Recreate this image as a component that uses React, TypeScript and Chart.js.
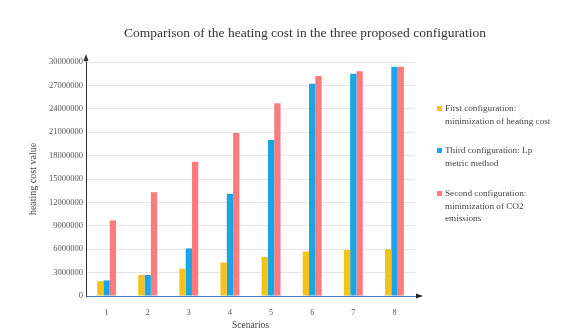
import React, { useEffect, useRef } from "react";
import { Chart, registerables } from "chart.js";

Chart.register(...registerables);

const categories = ["1", "2", "3", "4", "5", "6", "7", "8"];
const firstConfig = [1900000, 2700000, 3500000, 4300000, 5000000, 5700000, 5900000, 6000000];
const thirdConfig = [2000000, 2700000, 6100000, 13100000, 20000000, 27200000, 28500000, 29400000];
const secondConfig = [9700000, 13300000, 17200000, 20900000, 24700000, 28200000, 28800000, 29400000];
const yTicks = [0, 3000000, 6000000, 9000000, 12000000, 15000000, 18000000, 21000000, 24000000, 27000000, 30000000];

const titleText = "Comparison of the heating cost in the three proposed configuration";
const legendItems = [
  { color: "#f5c21b", lines: ["First configuration:", "minimization of heating cost"], top: 102 },
  { color: "#1aa6e4", lines: ["Third configuration: Lp", "metric method"], top: 144 },
  { color: "#fb7c7f", lines: ["Second configuration:", "minimization of CO2", "emissions"], top: 187 },
];

const FONT = "'Liberation Serif', 'Times New Roman', serif";

const arrowPlugin = {
  id: "axisArrows",
  afterDraw(chart: any) {
    const { ctx, chartArea } = chart;
    ctx.save();
    ctx.fillStyle = "#303030";
    ctx.beginPath();
    ctx.moveTo(chartArea.left, chartArea.top - 8);
    ctx.lineTo(chartArea.left - 2.5, chartArea.top - 1);
    ctx.lineTo(chartArea.left + 2.5, chartArea.top - 1);
    ctx.closePath();
    ctx.fill();
    ctx.strokeStyle = "#303030";
    ctx.beginPath();
    ctx.moveTo(chartArea.left, chartArea.top);
    ctx.lineTo(chartArea.left, chartArea.top - 4);
    ctx.stroke();
    ctx.fillStyle = "#222";
    ctx.beginPath();
    ctx.moveTo(chartArea.right + 8, chartArea.bottom);
    ctx.lineTo(chartArea.right + 1, chartArea.bottom - 2.5);
    ctx.lineTo(chartArea.right + 1, chartArea.bottom + 2.5);
    ctx.closePath();
    ctx.fill();
    ctx.restore();
  },
};

export default function App() {
  const ref = useRef<HTMLCanvasElement | null>(null);

  useEffect(() => {
    if (!ref.current) return;
    const chart = new Chart(ref.current, {
      type: "bar",
      data: {
        labels: categories,
        datasets: [
          { label: legendItems[0].lines.join(" "), data: firstConfig, backgroundColor: legendItems[0].color },
          { label: legendItems[1].lines.join(" "), data: thirdConfig, backgroundColor: legendItems[1].color },
          { label: legendItems[2].lines.join(" "), data: secondConfig, backgroundColor: legendItems[2].color },
        ],
      },
      options: {
        responsive: false,
        animation: false,
        datasets: { bar: { categoryPercentage: 0.46, barPercentage: 1.0 } },
        layout: { padding: { left: 0, right: 153, top: 62, bottom: 0 } },
        plugins: {
          legend: { display: false },
          title: { display: false },
          tooltip: { enabled: false },
        },
        scales: {
          x: {
            grid: { display: false },
            border: { color: "#4a7fc1", width: 1 },
            ticks: { color: "#555", font: { family: FONT, size: 8 }, padding: 4 },
            title: {
              display: true,
              text: "Scenarios",
              color: "#444",
              font: { family: FONT, size: 9.5 },
              padding: { top: 0, bottom: 4 },
            },
            afterFit(scale: any) {
              scale.height = 39;
            },
          },
          y: {
            min: 0,
            max: 30000000,
            afterBuildTicks(scale: any) {
              scale.ticks = yTicks.map((v) => ({ value: v }));
            },
            grid: { color: "#e6e6e6", drawTicks: false },
            border: { color: "#303030", width: 1 },
            ticks: {
              color: "#555",
              font: { family: FONT, size: 8.5 },
              padding: 3,
              callback: (v: any) => String(v),
            },
            title: {
              display: true,
              text: "heating cost value",
              color: "#444",
              font: { family: FONT, size: 10 },
              padding: { top: 27, bottom: 4 },
            },
            afterFit(scale: any) {
              scale.width = 86;
            },
          },
        },
      },
      plugins: [arrowPlugin],
    });
    return () => chart.destroy();
  }, []);

  return (
    <div style={{ position: "absolute", left: 0, top: 0, width: 568, height: 335, background: "#fff", fontFamily: FONT }}>
      <canvas ref={ref} width={568} height={335} style={{ position: "absolute", left: 0, top: 0 }} />
      <div
        style={{
          position: "absolute",
          left: 305,
          top: 25,
          transform: "translateX(-50%)",
          whiteSpace: "nowrap",
          fontSize: 13.5,
          lineHeight: "16px",
          color: "#333",
        }}
      >
        {titleText}
      </div>
      {legendItems.map((item, i) => (
        <div key={i} style={{ position: "absolute", left: 437, top: item.top }}>
          <div
            style={{
              position: "absolute",
              left: 0,
              top: 3.5,
              width: 5,
              height: 5,
              background: item.color,
            }}
          />
          <div style={{ position: "absolute", left: 8, top: 0, fontSize: 9.2, lineHeight: "12.5px", color: "#444", whiteSpace: "nowrap" }}>
            {item.lines.map((l, j) => (
              <div key={j}>{l}</div>
            ))}
          </div>
        </div>
      ))}
    </div>
  );
}
